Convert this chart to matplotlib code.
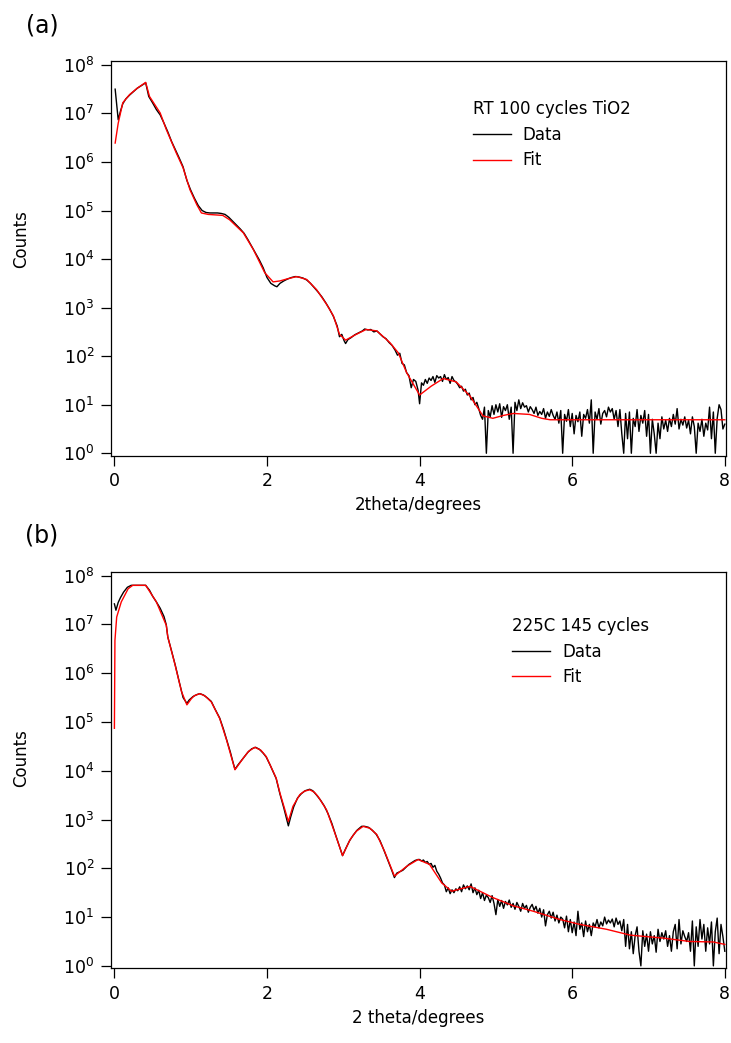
import numpy as np
import matplotlib
matplotlib.use("Agg")
import matplotlib.pyplot as plt
from matplotlib.ticker import FixedLocator, NullLocator

# ---- panel (a): RT 100 cycles TiO2 (values are log10 of counts) ----
fit_a_x = [0.01, 0.05, 0.11, 0.20, 0.30, 0.41, 0.46, 0.60, 0.68, 0.81, 0.90, 0.99,
           1.08, 1.14, 1.23, 1.42, 1.51, 1.69, 1.82, 1.97, 2.08, 2.17, 2.26, 2.39,
           2.52, 2.65, 2.78, 2.87, 2.95, 3.03, 3.17, 3.30, 3.44, 3.61, 3.72, 3.83,
           4.00, 4.15, 4.31, 4.48, 4.66, 4.83, 4.96, 5.10, 5.23, 5.44, 5.60, 5.71, 8.00]
fit_a_log = [6.39, 6.80, 7.22, 7.39, 7.52, 7.64, 7.35, 7.01, 6.67, 6.19, 5.88, 5.43,
             5.12, 4.95, 4.92, 4.90, 4.81, 4.54, 4.20, 3.72, 3.53, 3.55, 3.59, 3.64,
             3.58, 3.37, 3.07, 2.83, 2.45, 2.33, 2.45, 2.55, 2.52, 2.28, 2.07, 1.66,
             1.20, 1.38, 1.54, 1.47, 1.18, 0.77, 0.72, 0.78, 0.82, 0.80, 0.72, 0.69, 0.69]

data_a_x = [0.01, 0.05, 0.08, 0.11, 0.15, 0.20, 0.25, 0.30, 0.35, 0.41, 0.45, 0.50,
            0.55, 0.60, 0.65, 0.70, 0.75, 0.80, 0.85, 0.90, 0.95, 1.00, 1.05, 1.10,
            1.15, 1.20, 1.25, 1.30, 1.35, 1.40, 1.45, 1.50, 1.55, 1.60, 1.65, 1.70,
            1.75, 1.80, 1.85, 1.90, 1.95, 2.00, 2.05, 2.10, 2.13, 2.17, 2.22, 2.27,
            2.32, 2.37, 2.42, 2.47, 2.52, 2.57, 2.62, 2.67, 2.72, 2.77, 2.82, 2.87,
            2.92, 2.95, 2.98, 3.01, 3.03, 3.06, 3.10, 3.15, 3.20, 3.25, 3.28, 3.32,
            3.36, 3.40, 3.44, 3.48, 3.52, 3.56, 3.60, 3.64, 3.68, 3.71, 3.74, 3.77,
            3.80, 3.83, 3.86, 3.89, 3.92, 3.95, 3.98]
data_a_log = [7.50, 6.87, 7.05, 7.20, 7.30, 7.38, 7.45, 7.52, 7.57, 7.63, 7.35, 7.22,
              7.08, 6.97, 6.80, 6.62, 6.42, 6.25, 6.08, 5.90, 5.62, 5.42, 5.25, 5.10,
              5.00, 4.96, 4.95, 4.95, 4.95, 4.94, 4.92, 4.86, 4.78, 4.70, 4.62, 4.53,
              4.40, 4.26, 4.12, 3.98, 3.82, 3.62, 3.50, 3.45, 3.43, 3.50, 3.55, 3.59,
              3.62, 3.64, 3.63, 3.61, 3.57, 3.50, 3.41, 3.32, 3.22, 3.10, 2.97, 2.82,
              2.62, 2.40, 2.45, 2.32, 2.26, 2.34, 2.38, 2.44, 2.48, 2.52, 2.56, 2.54,
              2.55, 2.50, 2.52, 2.46, 2.40, 2.36, 2.28, 2.22, 2.12, 2.02, 2.06, 1.85,
              1.82, 1.66, 1.60, 1.35, 1.52, 1.48, 1.30]
# noisy tail, one reading every 0.025 degrees from 4.0 to 8.0
data_a_tail_log = [
    1.02, 1.45, 1.40, 1.52, 1.44, 1.55, 1.50, 1.58, 1.46, 1.60,
    1.55, 1.58, 1.48, 1.62, 1.52, 1.56, 1.44, 1.58, 1.50, 1.47,
    1.42, 1.35, 1.38, 1.28, 1.32, 1.20, 1.24, 1.10, 1.15, 1.00,
    1.05, 0.92, 0.78, 0.70, 0.95, 0.00, 0.88, 0.75, 0.98, 0.80,
    1.00, 0.85, 1.02, 0.74, 0.96, 0.88, 1.00, 0.70, 0.95, 0.00,
    1.05, 0.88, 1.10, 0.92, 1.04, 0.95, 0.98, 0.85, 0.96, 0.90,
    0.82, 0.95, 0.78, 0.86, 0.80, 0.92, 0.72, 0.85, 0.76, 0.90,
    0.78, 0.70, 0.85, 0.62, 0.88, 0.00, 0.80, 0.66, 0.90, 0.55,
    0.82, 0.40, 0.78, 0.65, 0.85, 0.35, 0.80, 0.72, 0.90, 0.62,
    1.10, 0.00, 0.85, 0.70, 0.92, 0.60, 0.82, 0.88, 0.75, 0.95,
    0.85, 0.92, 0.70, 0.88, 0.55, 0.90, 0.40, 0.00, 0.82, 0.30,
    0.85, 0.00, 0.72, 0.55, 0.90, 0.45, 0.78, 0.62, 0.88, 0.35,
    0.80, 0.00, 0.70, 0.40, 0.00, 0.62, 0.30, 0.75, 0.50, 0.68,
    0.45, 0.72, 0.55, 0.80, 0.60, 0.92, 0.50, 0.70, 0.58, 0.75,
    0.52, 0.68, 0.40, 0.75, 0.55, 0.00, 0.62, 0.45, 0.70, 0.35,
    0.62, 0.48, 0.95, 0.30, 0.85, 0.00, 0.72, 1.00, 0.90, 0.50,
    0.60]

# ---- panel (b): 225C 145 cycles ----
fit_b_x = [0.00, 0.007, 0.03, 0.09, 0.18, 0.24, 0.41, 0.55, 0.68, 0.70, 0.79, 0.88,
           0.95, 1.01, 1.05, 1.12, 1.19, 1.27, 1.38, 1.47, 1.58, 1.69, 1.76, 1.84,
           1.92, 1.99, 2.12, 2.17, 2.28, 2.34, 2.43, 2.49, 2.56, 2.62, 2.67, 2.78,
           2.89, 2.99, 3.09, 3.17, 3.26, 3.35, 3.44, 3.54, 3.67, 3.83, 3.98, 4.13,
           4.29, 4.42, 4.66, 4.96, 5.23, 5.49, 5.84, 6.10, 6.45, 6.76, 7.19, 7.54,
           7.85, 8.00]
fit_b_log = [4.87, 6.67, 7.15, 7.46, 7.73, 7.80, 7.80, 7.46, 6.98, 6.74, 6.20, 5.62,
             5.35, 5.48, 5.54, 5.58, 5.53, 5.41, 5.07, 4.63, 4.02, 4.26, 4.40, 4.48,
             4.42, 4.29, 3.85, 3.54, 2.96, 3.27, 3.51, 3.58, 3.61, 3.56, 3.47, 3.20,
             2.72, 2.26, 2.59, 2.76, 2.86, 2.82, 2.69, 2.35, 1.84, 2.04, 2.18, 2.08,
             1.70, 1.53, 1.63, 1.40, 1.23, 1.12, 0.95, 0.85, 0.75, 0.63, 0.57, 0.50,
             0.49, 0.44]

data_b_x = [0.00, 0.02, 0.05, 0.08, 0.12, 0.17, 0.22, 0.30, 0.41, 0.46, 0.50, 0.55,
            0.60, 0.65, 0.68, 0.70, 0.75, 0.80, 0.85, 0.90, 0.95, 0.98, 1.03, 1.08,
            1.12, 1.17, 1.22, 1.27, 1.32, 1.38, 1.43, 1.47, 1.52, 1.55, 1.58, 1.62,
            1.66, 1.70, 1.75, 1.80, 1.85, 1.90, 1.95, 1.99, 2.04, 2.08, 2.12, 2.17,
            2.22, 2.28, 2.31, 2.35, 2.40, 2.45, 2.50, 2.56, 2.60, 2.65, 2.70, 2.75,
            2.80, 2.85, 2.90, 2.95, 2.99, 3.03, 3.08, 3.13, 3.18, 3.24, 3.28, 3.33,
            3.38, 3.43, 3.48, 3.53, 3.58, 3.63, 3.67, 3.70, 3.74, 3.78, 3.82, 3.86,
            3.90, 3.94, 3.98]
data_b_log = [7.42, 7.29, 7.45, 7.55, 7.66, 7.76, 7.80, 7.80, 7.80, 7.70, 7.58, 7.46,
              7.33, 7.16, 6.99, 6.74, 6.45, 6.15, 5.82, 5.50, 5.38, 5.45, 5.52, 5.56,
              5.58, 5.55, 5.49, 5.42, 5.26, 5.08, 4.85, 4.64, 4.38, 4.20, 4.03, 4.12,
              4.20, 4.28, 4.38, 4.45, 4.48, 4.44, 4.36, 4.28, 4.12, 3.98, 3.84, 3.52,
              3.24, 2.87, 3.05, 3.26, 3.44, 3.53, 3.59, 3.62, 3.59, 3.50, 3.40, 3.28,
              3.12, 2.92, 2.68, 2.45, 2.26, 2.40, 2.56, 2.68, 2.78, 2.86, 2.86, 2.84,
              2.78, 2.70, 2.57, 2.38, 2.18, 1.98, 1.81, 1.90, 1.93, 1.96, 2.02, 2.08,
              2.12, 2.16, 2.18]
data_b_tail_log = [
    2.18, 2.15, 2.17, 2.12, 2.14, 2.08, 2.10, 2.02, 2.06, 1.94,
    1.88, 1.80, 1.70, 1.66, 1.52, 1.60, 1.48, 1.56, 1.50, 1.58,
    1.54, 1.62, 1.52, 1.66, 1.58, 1.64, 1.56, 1.68, 1.50, 1.60,
    1.46, 1.55, 1.38, 1.50, 1.34, 1.45, 1.40, 1.30, 1.44, 1.28,
    1.05, 1.36, 1.22, 1.34, 1.18, 1.32, 1.25, 1.35, 1.20, 1.28,
    1.16, 1.30, 1.22, 1.12, 1.28, 1.18, 1.24, 1.10, 1.20, 1.26,
    1.14, 1.22, 1.08, 1.18, 1.00, 1.15, 0.82, 1.05, 1.12, 0.98,
    1.10, 0.92, 1.04, 0.88, 1.00, 0.96, 0.78, 1.02, 0.70, 0.95,
    0.68, 0.90, 0.62, 1.12, 0.75, 0.88, 0.60, 0.92, 0.70, 0.85,
    0.62, 0.88, 0.80, 0.95, 0.78, 0.90, 0.82, 1.00, 0.86, 0.94,
    0.88, 0.96, 0.80, 0.98, 0.85, 0.92, 0.72, 0.95, 0.40, 0.85,
    0.35, 0.70, 0.25, 0.62, 0.80, 0.30, 0.00, 0.72, 0.40, 0.65,
    0.30, 0.70, 0.45, 0.62, 0.28, 0.75, 0.50, 0.68, 0.55, 0.72,
    0.40, 0.62, 0.30, 0.70, 0.85, 0.35, 0.95, 0.45, 0.72, 0.60,
    0.50, 0.68, 0.30, 0.92, 0.00, 0.80, 0.40, 0.95, 0.55, 0.85,
    0.30, 0.78, 0.45, 0.90, 0.00, 0.70, 0.98, 0.25, 0.85, 0.60,
    0.30]

tail_x = np.round(np.arange(4.0, 8.0001, 0.025), 3)

panels = [
    dict(tag="(a)", title="RT 100 cycles TiO2", xlabel="2theta/degrees",
         fx=fit_a_x, fy=fit_a_log, dx=data_a_x, dy=data_a_log, ty=data_a_tail_log,
         rect=[0.1518, 0.5631, 0.8413, 0.3784], leg=(0.588, 0.90), ylab_y=0.55),
    dict(tag="(b)", title="225C 145 cycles", xlabel="2 theta/degrees",
         fx=fit_b_x, fy=fit_b_log, dx=data_b_x, dy=data_b_log, ty=data_b_tail_log,
         rect=[0.1518, 0.0716, 0.8413, 0.3803], leg=(0.652, 0.885), ylab_y=0.53),
]

plt.rcParams['font.family'] = ['DejaVu Sans']
fig = plt.figure(figsize=(7.31, 10.43), dpi=100)

for p in panels:
    ax = fig.add_axes(p["rect"])
    x_data = np.concatenate([p["dx"], tail_x])
    y_data = 10 ** np.concatenate([p["dy"], p["ty"]])
    ax.plot(x_data, y_data, color="black", lw=1.0, label="Data")
    ax.plot(p["fx"], 10 ** np.array(p["fy"]), color="#ff0000", lw=1.0, label="Fit")

    ax.set_yscale("log")
    ax.set_xlim(-0.045, 8.015)
    ax.set_ylim(10 ** -0.05, 10 ** 8.08)
    ax.yaxis.set_major_locator(FixedLocator([10.0 ** k for k in range(9)]))
    ax.yaxis.set_minor_locator(NullLocator())
    ax.set_xticks([0, 2, 4, 6, 8])
    ax.tick_params(direction="out", length=7, width=0.9, labelsize=12.5, pad=5)
    for s in ax.spines.values():
        s.set_linewidth(0.9)

    ax.set_ylabel("Counts", fontsize=12)
    ax.yaxis.set_label_coords(-0.132, p["ylab_y"])
    ax.set_xlabel(p["xlabel"], fontsize=12, labelpad=4)

    ax.legend(title=p["title"], loc="upper left", bbox_to_anchor=p["leg"],
              frameon=False, fontsize=12, title_fontsize=12, borderpad=0,
              borderaxespad=0, handlelength=2.3, handletextpad=0.7,
              labelspacing=0.45, alignment="left")

    # panel tag sits above the top-left corner of the axes
    top_px = (1 - p["rect"][1] - p["rect"][3]) * 1043
    fig.text(42 / 731, 1 - (top_px - 36) / 1043, p["tag"], fontsize=17,
             ha="center", va="center")

fig.savefig("out.png", dpi=100)
